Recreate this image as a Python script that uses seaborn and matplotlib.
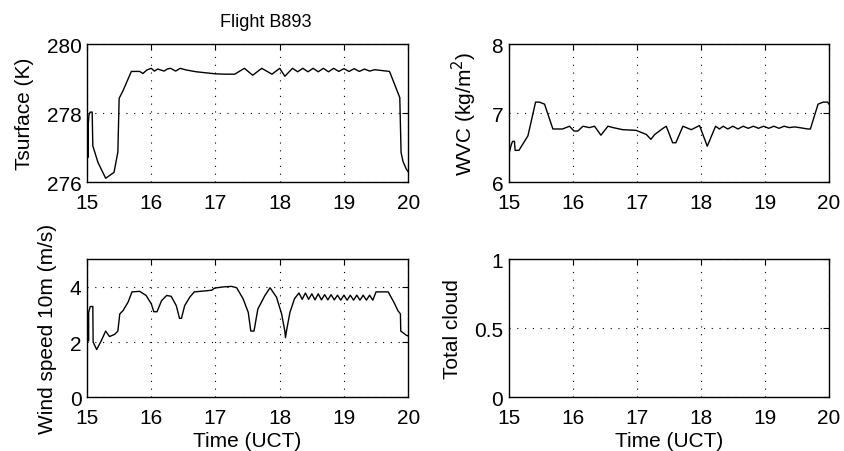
import numpy as np
import pandas as pd
import seaborn as sns
import matplotlib.pyplot as plt

# surface temperature (K)
t_ts = [15.02, 15.02, 15.03, 15.05, 15.08, 15.09, 15.17, 15.29, 15.42, 15.48, 15.50, 15.56,
        15.69, 15.82, 15.87, 15.93, 16.0, 16.05, 16.1, 16.15, 16.2, 16.25, 16.3, 16.38, 16.45,
        16.55, 16.7, 16.8, 16.9, 17.0, 17.15, 17.3, 17.45, 17.58, 17.72, 17.88, 18.0, 18.08,
        18.2, 18.28, 18.36, 18.44, 18.52, 18.6, 18.68, 18.76, 18.84, 18.92, 19.0, 19.08,
        19.16, 19.24, 19.32, 19.4, 19.48, 19.71, 19.87, 19.89, 19.92, 19.97, 20.0]
ts = [276.72, 277.7, 277.95, 278.03, 278.03, 277.05, 276.57, 276.11, 276.28, 276.87, 278.43, 278.65,
      279.21, 279.21, 279.15, 279.25, 279.3, 279.22, 279.28, 279.25, 279.22, 279.28, 279.3, 279.22, 279.3,
      279.25, 279.2, 279.18, 279.16, 279.14, 279.13, 279.13, 279.3, 279.1, 279.3, 279.13, 279.3, 279.07,
      279.3, 279.2, 279.3, 279.2, 279.3, 279.2, 279.3, 279.2, 279.3, 279.21, 279.29, 279.21,
      279.29, 279.21, 279.28, 279.22, 279.26, 279.21, 278.45, 276.86, 276.6, 276.38, 276.3]

# water vapour content (kg/m2)
t_wvc = [15.01, 15.04, 15.06, 15.09, 15.10, 15.16, 15.30, 15.42, 15.48, 15.56, 15.69, 15.84,
         15.95, 16.02, 16.08, 16.16, 16.26, 16.34, 16.44, 16.55, 16.63, 16.78, 16.99, 17.07,
         17.15, 17.22, 17.28, 17.41, 17.46, 17.56, 17.61, 17.72, 17.85, 17.98, 18.10, 18.23,
         18.29, 18.35, 18.42, 18.5, 18.58, 18.66, 18.74, 18.82, 18.9, 18.98, 19.06, 19.14,
         19.22, 19.3, 19.38, 19.46, 19.54, 19.67, 19.71, 19.83, 19.91, 19.98, 20.0]
wvc = [6.43, 6.54, 6.59, 6.59, 6.46, 6.46, 6.67, 7.16, 7.16, 7.13, 6.77, 6.77,
       6.81, 6.74, 6.74, 6.81, 6.79, 6.81, 6.68, 6.81, 6.79, 6.76, 6.75, 6.72,
       6.69, 6.62, 6.69, 6.78, 6.81, 6.57, 6.57, 6.81, 6.76, 6.82, 6.52, 6.81,
       6.77, 6.81, 6.77, 6.81, 6.77, 6.81, 6.78, 6.81, 6.78, 6.81, 6.78, 6.81,
       6.78, 6.81, 6.79, 6.80, 6.79, 6.77, 6.77, 7.13, 7.16, 7.16, 7.13]

# wind speed 10 m (m/s)
t_ws = [15.025, 15.025, 15.05, 15.09, 15.095, 15.15, 15.22, 15.29, 15.35, 15.43, 15.48, 15.51,
        15.56, 15.64, 15.70, 15.82, 15.92, 16.0, 16.04, 16.09, 16.16, 16.24, 16.31, 16.39,
        16.44, 16.47, 16.52, 16.6, 16.67, 16.81, 16.94, 16.99, 17.12, 17.25, 17.33, 17.43,
        17.51, 17.55, 17.60, 17.66, 17.77, 17.85, 17.95, 18.03, 18.08, 18.09, 18.11, 18.16,
        18.23, 18.30, 18.35, 18.4, 18.45, 18.5, 18.55, 18.6, 18.65, 18.7, 18.75, 18.8,
        18.85, 18.9, 18.95, 19.0, 19.05, 19.1, 19.15, 19.2, 19.25, 19.3, 19.35, 19.4,
        19.45, 19.5, 19.69, 19.79, 19.84, 19.88, 19.885, 19.97, 20.0]
ws = [2.04, 3.08, 3.29, 3.29, 2.0, 1.73, 2.04, 2.4, 2.2, 2.28, 2.4, 3.02,
      3.14, 3.45, 3.82, 3.84, 3.69, 3.39, 3.1, 3.1, 3.5, 3.69, 3.66, 3.32,
      2.86, 2.86, 3.32, 3.63, 3.82, 3.85, 3.88, 3.96, 4.0, 4.02, 3.97, 3.57,
      3.08, 2.4, 2.4, 3.2, 3.69, 3.97, 3.63, 3.02, 2.4, 2.16, 2.46, 3.08,
      3.57, 3.78, 3.55, 3.78, 3.55, 3.75, 3.53, 3.75, 3.53, 3.72, 3.53, 3.72,
      3.53, 3.7, 3.52, 3.7, 3.52, 3.7, 3.52, 3.7, 3.52, 3.7, 3.52, 3.7,
      3.52, 3.82, 3.82, 3.39, 3.14, 3.02, 2.4, 2.25, 2.22]

xticks = [15, 16, 17, 18, 19, 20]

sns.set_style("white")
plt.rcParams['font.family'] = ['Liberation Sans', 'DejaVu Sans']
plt.rcParams['text.color'] = 'k'
plt.rcParams['axes.labelcolor'] = 'k'
plt.rcParams['xtick.color'] = 'k'
plt.rcParams['ytick.color'] = 'k'

fig = plt.figure(figsize=(8.45, 4.52), dpi=100)
ax1 = fig.add_axes([0.103, 0.595, 0.380, 0.305])
ax2 = fig.add_axes([0.602, 0.595, 0.379, 0.305])
ax3 = fig.add_axes([0.103, 0.119, 0.380, 0.305])
ax4 = fig.add_axes([0.602, 0.119, 0.379, 0.305])

sns.lineplot(x=t_ts, y=ts, ax=ax1, color='k', lw=1, sort=False, estimator=None)
sns.lineplot(x=t_wvc, y=wvc, ax=ax2, color='k', lw=1, sort=False, estimator=None)
sns.lineplot(x=t_ws, y=ws, ax=ax3, color='k', lw=1, sort=False, estimator=None)

ax1.set_ylim(276, 280); ax1.set_yticks([276, 278, 280])
ax2.set_ylim(6, 8); ax2.set_yticks([6, 7, 8])
ax3.set_ylim(0, 5); ax3.set_yticks([0, 2, 4])
ax4.set_ylim(0, 1); ax4.set_yticks([0, 0.5, 1]); ax4.set_yticklabels(['0', '0.5', '1'])

ax1.set_ylabel('Tsurface (K)', fontsize=15, labelpad=9)
ax2.set_ylabel('WVC (kg/m$^2$)', fontsize=15, labelpad=9)
ax3.set_ylabel('Wind speed 10m (m/s)', fontsize=15, labelpad=9)
ax4.set_ylabel('Total cloud', fontsize=15, labelpad=9)
ax3.set_xlabel('Time (UCT)', fontsize=15, labelpad=3)
ax4.set_xlabel('Time (UCT)', fontsize=15, labelpad=3)

for ax in [ax1, ax2, ax3, ax4]:
    ax.set_xlim(15, 20)
    ax.set_xticks(xticks)
    ax.tick_params(direction='in', top=True, right=True, length=4, width=0.8,
                   labelsize=15, color='k', labelcolor='k')
    ax.tick_params(axis='x', pad=8)
    ax.tick_params(axis='y', pad=4)
    ax.grid(True, linestyle=(0, (1, 6)), color='k', lw=0.8)
    for s in ax.spines.values():
        s.set_color('k')
        s.set_linewidth(1)

fig.text(0.315, 0.94, 'Flight B893', fontsize=13, ha='center', va='baseline', color='k')

fig.savefig('out.png', dpi=100)
